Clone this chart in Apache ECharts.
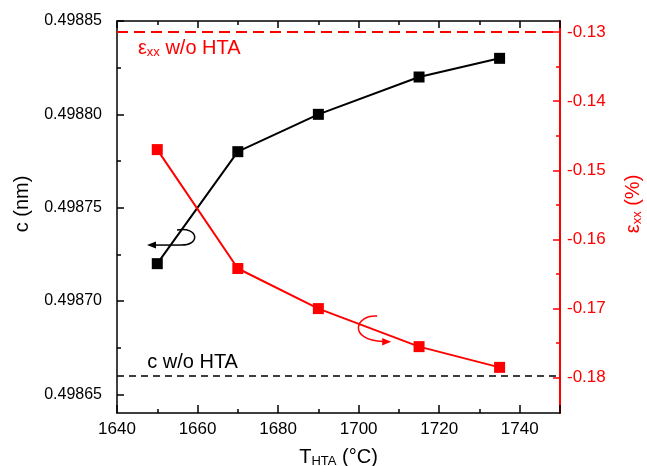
<!DOCTYPE html>
<html>
<head>
<meta charset="utf-8">
<script src="https://cdn.jsdelivr.net/npm/echarts@6/dist/echarts.min.js"></script>
<style>html,body{margin:0;padding:0;background:#fff}#chart{width:647px;height:466px}</style>
</head>
<body>
<div id="chart"></div>
<script>
// data
const temps = [1650, 1670, 1690, 1715, 1735];
const cValues = [0.49872, 0.49878, 0.49880, 0.49882, 0.49883];
const strainValues = [-0.1470, -0.1642, -0.1700, -0.1755, -0.1785];
const cRef = 0.49866;
const strainRef = -0.1300;
const cTicks = [0.49865, 0.49870, 0.49875, 0.49880, 0.49885];
const cMinorTicks = [0.498675, 0.498725, 0.498775, 0.498825];
const strainTicks = [-0.18, -0.17, -0.16, -0.15, -0.14, -0.13];
const strainMinorTicks = [-0.175, -0.165, -0.155, -0.145, -0.135];

const FONT = 'Liberation Sans, Arial, sans-serif';
const RED = '#ff0000';

const chart = echarts.init(document.getElementById('chart'));

const option = {
    backgroundColor: '#fff',
    animation: false,
    grid: { left: 117, right: 87, top: 21, bottom: 53, outerBoundsMode: 'none', containLabel: false },
    xAxis: [{
        type: 'value',
        position: 'bottom',
        min: 1640, max: 1750, interval: 20,
        name: 'T{sub|HTA} (°C)',
        nameLocation: 'middle',
        nameGap: 33,
        nameTextStyle: {
            color: '#000', fontFamily: FONT, fontSize: 20, lineHeight: 22,
            rich: { sub: { fontSize: 13, lineHeight: 6, verticalAlign: 'bottom', fontFamily: FONT, color: '#000' } }
        },
        axisLine: { lineStyle: { color: '#000', width: 1.5 } },
        axisTick: { inside: true, length: 8, lineStyle: { color: '#000', width: 1.5 } },
        minorTick: { show: true, splitNumber: 2, length: 4, lineStyle: { color: '#000', width: 1.5 } },
        axisLabel: { color: '#000', fontFamily: FONT, fontSize: 17, margin: 8, showMaxLabel: false, formatter: v => String(v) },
        splitLine: { show: false }
    }, {
        type: 'value',
        position: 'top',
        min: 1640, max: 1750, interval: 20,
        axisLine: { lineStyle: { color: '#000', width: 1.5 } },
        axisTick: { inside: true, length: 7, lineStyle: { color: '#000', width: 1.5 } },
        minorTick: { show: true, splitNumber: 2, length: 4, lineStyle: { color: '#000', width: 1.5 } },
        axisLabel: { show: false },
        splitLine: { show: false }
    }],
    yAxis: [{
        type: 'value',
        position: 'left',
        min: 0.49864, max: 0.49885,
        name: 'c (nm)',
        nameLocation: 'middle',
        nameRotate: 90,
        nameGap: 85,
        nameTextStyle: { color: '#000', fontFamily: FONT, fontSize: 20, padding: [0, 0, 0, 26] },
        axisLine: { lineStyle: { color: '#000', width: 1.5 } },
        axisTick: { inside: true, length: 7, customValues: cTicks, lineStyle: { color: '#000', width: 1.5 } },
        axisLabel: {
            color: '#000', fontFamily: FONT, fontSize: 16, margin: 15,
            customValues: cTicks,
            formatter: v => v.toFixed(5)
        },
        splitLine: { show: false }
    }, {
        type: 'value',
        position: 'right',
        min: -0.1851, max: -0.1284,
        name: 'ε{sub|xx} (%)',
        nameLocation: 'middle',
        nameRotate: 90,
        nameGap: 62,
        nameTextStyle: {
            color: RED, fontFamily: FONT, fontSize: 20, lineHeight: 22, padding: [0, 0, 0, 26],
            rich: { sub: { fontSize: 13, lineHeight: 8, verticalAlign: 'bottom', fontFamily: FONT, color: RED } }
        },
        axisLine: { lineStyle: { color: RED, width: 2 } },
        axisTick: { inside: true, length: 7, customValues: strainTicks, lineStyle: { color: RED, width: 1.5 } },
        axisLabel: {
            color: RED, fontFamily: FONT, fontSize: 17, margin: 7,
            customValues: strainTicks,
            formatter: v => v.toFixed(2)
        },
        splitLine: { show: false }
    }, {
        // minor ticks, left
        type: 'value',
        position: 'left',
        min: 0.49864, max: 0.49885,
        axisLine: { show: false },
        axisTick: { inside: true, length: 4, customValues: cMinorTicks, lineStyle: { color: '#000', width: 1.5 } },
        axisLabel: { show: false },
        splitLine: { show: false }
    }, {
        // minor ticks, right
        type: 'value',
        position: 'right',
        min: -0.1851, max: -0.1284,
        axisLine: { show: false },
        axisTick: { inside: true, length: 4, customValues: strainMinorTicks, lineStyle: { color: RED, width: 1.5 } },
        axisLabel: { show: false },
        splitLine: { show: false }
    }],
    series: [{
        name: 'c',
        type: 'line',
        xAxisIndex: 0,
        yAxisIndex: 0,
        data: temps.map((t, i) => [t, cValues[i]]),
        symbol: 'rect',
        symbolSize: 11,
        itemStyle: { color: '#000' },
        lineStyle: { color: '#000', width: 2 },
        z: 3,
        markLine: {
            silent: true,
            symbol: 'none',
            precision: 6,
            label: { show: false },
            lineStyle: { color: '#000', width: 1.5, type: [7, 5] },
            data: [{ yAxis: cRef }]
        }
    }, {
        name: 'strain',
        type: 'line',
        xAxisIndex: 0,
        yAxisIndex: 1,
        data: temps.map((t, i) => [t, strainValues[i]]),
        symbol: 'rect',
        symbolSize: 11,
        itemStyle: { color: RED },
        lineStyle: { color: RED, width: 2 },
        z: 3,
        markLine: {
            silent: true,
            symbol: 'none',
            precision: 6,
            label: { show: false },
            lineStyle: { color: RED, width: 2, type: [11, 6] },
            data: [{ yAxis: strainRef }]
        }
    }]
};

chart.setOption(option);

// annotations placed from data coordinates
const pc = (x, y) => chart.convertToPixel({ seriesIndex: 0 }, [x, y]);
const ps = (x, y) => chart.convertToPixel({ seriesIndex: 1 }, [x, y]);

const a = pc(1654.9, 0.498738);
const b = ps(1704.6, -0.17108);
const t1 = ps(1645.2, -0.13236);
const t2 = pc(1647.5, 0.498667);

chart.setOption({
    graphic: [{
        type: 'text', x: t1[0], y: t1[1],
        style: {
            text: '{m|ε}{sub|xx}{m| w/o HTA}',
            verticalAlign: 'middle',
            rich: {
                m: { fontSize: 20, lineHeight: 22, fontFamily: FONT, fill: RED },
                sub: { fontSize: 13, lineHeight: 8, verticalAlign: 'bottom', fontFamily: FONT, fill: RED }
            }
        }
    }, {
        type: 'text', x: t2[0], y: t2[1],
        style: { text: 'c w/o HTA', fontSize: 20, fontFamily: FONT, fill: '#000', verticalAlign: 'middle' }
    }, {
        type: 'bezierCurve',
        shape: { x1: a[0], y1: a[1], cpx1: a[0] + 22, cpy1: a[1] - 4, cpx2: a[0] + 24, cpy2: a[1] + 16, x2: a[0] + 3, y2: a[1] + 15 },
        style: { stroke: '#000', lineWidth: 1.5, fill: null }
    }, {
        type: 'polyline',
        shape: { points: [[a[0] + 3, a[1] + 15], [a[0] - 22, a[1] + 15]] },
        style: { stroke: '#000', lineWidth: 1.5, fill: null }
    }, {
        type: 'polygon',
        shape: { points: [[a[0] - 30, a[1] + 15], [a[0] - 21, a[1] + 11.5], [a[0] - 21, a[1] + 18.5]] },
        style: { fill: '#000' }
    }, {
        type: 'bezierCurve',
        shape: { x1: b[0], y1: b[1], cpx1: b[0] - 22, cpy1: b[1] - 2, cpx2: b[0] - 30, cpy2: b[1] + 24, x2: b[0] + 6, y2: b[1] + 25.5 },
        style: { stroke: RED, lineWidth: 1.5, fill: null }
    }, {
        type: 'polygon',
        shape: { points: [[b[0] + 14, b[1] + 25.7], [b[0] + 5, b[1] + 22], [b[0] + 5, b[1] + 29.4]] },
        style: { fill: RED }
    }]
});
</script>
</body>
</html>
